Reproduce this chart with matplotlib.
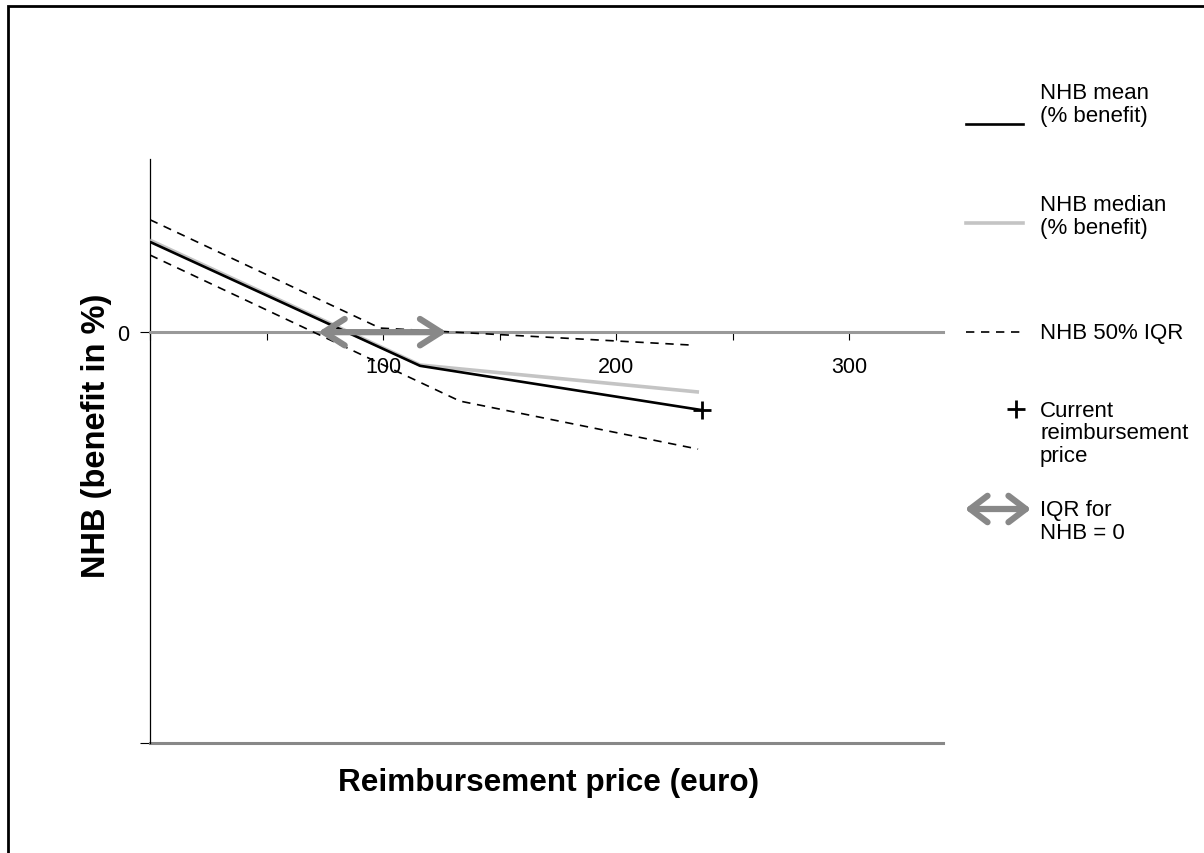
import matplotlib
matplotlib.use('Agg')
import matplotlib.pyplot as plt
from matplotlib.lines import Line2D
from matplotlib.patches import FancyArrowPatch, Rectangle

plt.rcParams['font.family'] = ['Liberation Sans', 'DejaVu Sans']

# data (price in euro, NHB in %)
price_mean = [0, 115.9, 236.9]
nhb_mean = [22.0, -8.2, -19.0]
price_median = [0, 115.9, 235.6]
nhb_median = [22.4, -8.0, -14.6]
price_iqr_hi = [0, 98.7, 234.0]
nhb_iqr_hi = [27.4, 1.0, -3.2]
price_iqr_lo = [0, 133.0, 235.2]
nhb_iqr_lo = [18.8, -16.8, -28.5]
current_price = [236.9]
current_nhb = [-19.0]
iqr_zero = [72.1, 127.3]

x_ticks = [0, 50, 100, 150, 200, 250, 300]
x_ticklabels = ['', '', '100', '', '200', '', '300']

W, H = 1204, 854
ARROW = '<->,head_length=1.5,head_width=0.95'

fig = plt.figure(figsize=(W / 100, H / 100), dpi=100)
ax = fig.add_axes([150 / W, 1 - 743.5 / H, 793 / W, 583.5 / H])

ax.plot(price_median, nhb_median, color='#c4c4c4', lw=2.6, solid_capstyle='butt', zorder=3)
ax.plot(price_mean, nhb_mean, color='black', lw=1.9, zorder=4)
ax.plot(price_iqr_hi, nhb_iqr_hi, color='black', lw=1.2, dashes=(5, 4), zorder=4)
ax.plot(price_iqr_lo, nhb_iqr_lo, color='black', lw=1.2, dashes=(5, 4), zorder=4)
ax.plot(current_price, current_nhb, marker='+', ms=13, mew=2, color='black',
        ls='none', zorder=5)

arrow = FancyArrowPatch((iqr_zero[0], 0), (iqr_zero[1], 0), arrowstyle=ARROW,
                        mutation_scale=10, shrinkA=0, shrinkB=0,
                        color='#888888', lw=4.5, capstyle='round', joinstyle='round', zorder=6)
ax.add_patch(arrow)

ax.set_xlim(0, 340.3)
ax.set_ylim(-100, 42.2)

# x axis crosses at NHB = 0
ax.spines['bottom'].set_position(('data', 0))
ax.spines['bottom'].set_color('#999999')
ax.spines['bottom'].set_linewidth(2.2)
ax.spines['top'].set_visible(False)
ax.spines['right'].set_visible(False)
ax.spines['left'].set_linewidth(0.9)
ax.axhline(-100, color='#888888', lw=2.2, clip_on=False, zorder=2)

ax.set_xticks(x_ticks)
ax.set_xticklabels(x_ticklabels, fontsize=15.5)
ax.tick_params(axis='x', direction='out', length=6, width=0.8, color='black', pad=11)
ax.set_yticks([0, -100])
ax.set_yticklabels(['0', ''], fontsize=15.5)
ax.tick_params(axis='y', direction='out', length=7, width=0.8, pad=8)

ax.set_xlabel('Reimbursement price (euro)', fontsize=22.7, fontweight='bold')
ax.xaxis.set_label_coords(0.502, -0.042)
ax.set_ylabel('NHB (benefit in %)', fontsize=23.5, fontweight='bold')
ax.yaxis.set_label_coords(-0.048, 0.528)

# legend drawn by hand on the right
def fx(px):
    return px / W


def fy(py):
    return 1 - py / H


fig.add_artist(Line2D([fx(966), fx(1023)], [fy(125), fy(125)], color='black', lw=1.9))
fig.add_artist(Line2D([fx(966), fx(1023)], [fy(224), fy(224)], color='#c4c4c4', lw=2.6))
fig.add_artist(Line2D([fx(966), fx(1023)], [fy(333), fy(333)], color='black', lw=1.2, dashes=(5, 4)))
fig.add_artist(Line2D([fx(1016)], [fy(410)], marker='+', ms=13, mew=2, color='black'))
fig.add_artist(FancyArrowPatch((fx(965), fy(510)), (fx(1031), fy(510)), transform=fig.transFigure,
                               arrowstyle='<->,head_length=1.25,head_width=0.95', mutation_scale=10,
                               shrinkA=0, shrinkB=0, color='#888888', lw=4.5,
                               capstyle='round', joinstyle='round'))

leg_txt = [(105, 'NHB mean\n(% benefit)'), (217, 'NHB median\n(% benefit)'),
           (333, 'NHB 50% IQR'), (434, 'Current\nreimbursement\nprice'), (522, 'IQR for\nNHB = 0')]
for py, t in leg_txt:
    fig.text(fx(1040), fy(py), t, fontsize=16, va='center', ha='left', linespacing=1.1)

# outer frame
fig.add_artist(Rectangle((fx(8), -0.1), 1.2, fy(7) + 0.1, transform=fig.transFigure,
                         fill=False, edgecolor='black', lw=2))

fig.savefig('out.png', dpi=100)
